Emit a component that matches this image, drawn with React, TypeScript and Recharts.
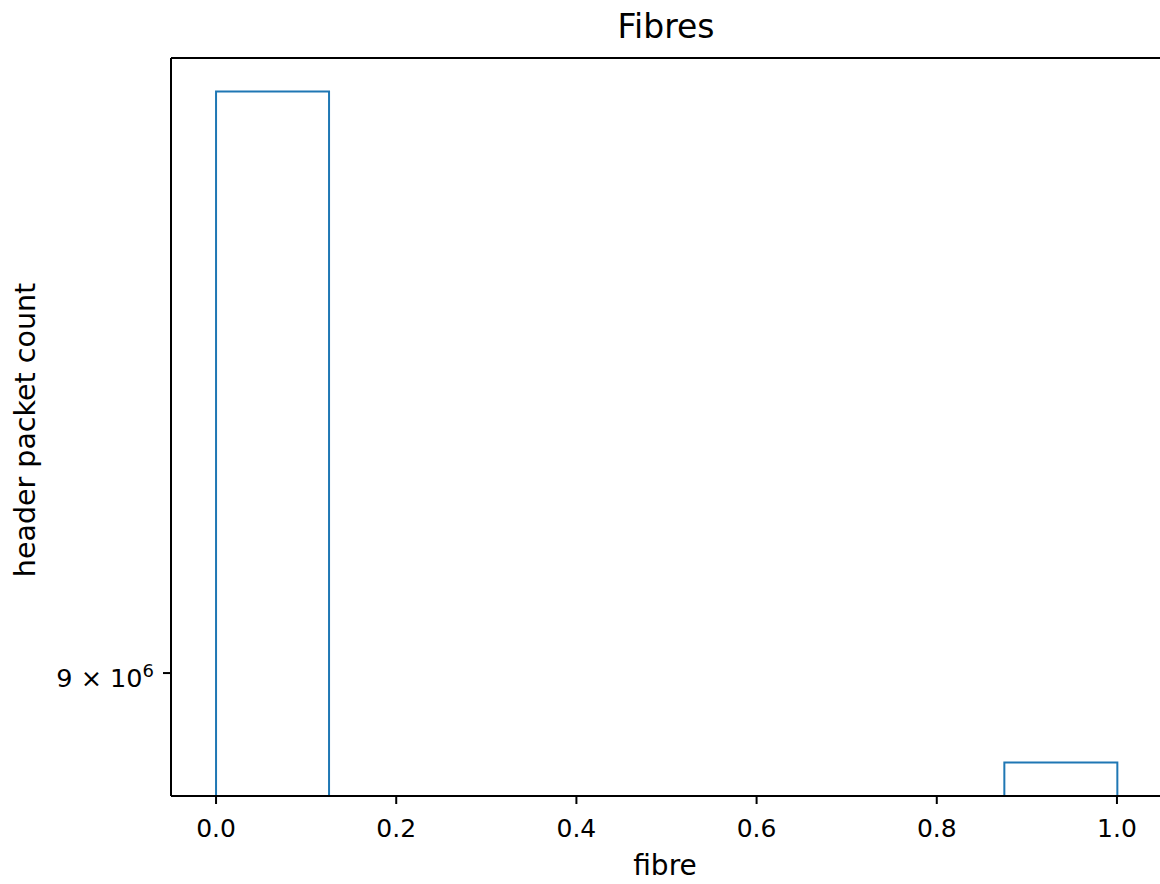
import { BarChart, Bar, XAxis, YAxis, Label, ReferenceLine } from "recharts";

const binCenters = [0.0625, 0.1875, 0.3125, 0.4375, 0.5625, 0.6875, 0.8125, 0.9375];
const packetCounts: (number | null)[] = [9.75e6, null, null, null, null, null, null, 8.89e6];
const xTicks = [0, 0.2, 0.4, 0.6, 0.8, 1.0];
const yTicks = [9e6];
const xDomain = [-0.05, 1.05];
const yDomain = [8.849e6, 9.795e6];

const data = binCenters.map((c, i) => ({ fibre: c, count: packetCounts[i] }));

const FONT = "'DejaVu Sans', sans-serif";
const BLUE = "#1f77b4";

// step outline: no bottom edge, like histtype='step'
const StepBin = (props: any) => {
  const { x, y, width, height } = props;
  if (height == null || isNaN(height)) return null;
  return (
    <path
      d={`M${x},${y + height} L${x},${y} L${x + width},${y} L${x + width},${y + height}`}
      fill="none"
      stroke={BLUE}
      strokeWidth={2}
    />
  );
};

const LogTick = (props: any) => {
  const { x, y, payload } = props;
  const exp = Math.floor(Math.log10(payload.value));
  const mant = Math.round(payload.value / Math.pow(10, exp));
  return (
    <text x={x} y={y + 14} textAnchor="end" fontSize={25.5} fill="#000" fontFamily={FONT}>
      {`${mant} × 10`}
      <tspan dy={-10} fontSize={18}>{exp}</tspan>
    </text>
  );
};

const App = () => {
  return (
    <div style={{ position: "absolute", left: 0, top: 0, width: 1160, height: 884, overflow: "hidden", background: "#fff" }}>
      <div
        style={{
          position: "absolute",
          left: 0,
          width: 1332,
          top: 9,
          textAlign: "center",
          fontFamily: FONT,
          fontSize: 33,
          lineHeight: "36px",
          color: "#000",
        }}
      >
        Fibres
      </div>
      <BarChart
        width={1170}
        height={884}
        data={data}
        margin={{ top: 58, right: 8, left: 0, bottom: 0 }}
        barCategoryGap={0}
        barGap={0}
      >
        <XAxis
          dataKey="fibre"
          type="number"
          domain={xDomain}
          allowDataOverflow
          ticks={xTicks}
          tickFormatter={(v: number) => v.toFixed(1)}
          height={88}
          tickSize={8}
          tickMargin={15}
          axisLine={{ stroke: "#000", strokeWidth: 2 }}
          tickLine={{ stroke: "#000", strokeWidth: 2 }}
          tick={{ fontSize: 25, fill: "#000", fontFamily: FONT }}
        >
          <Label
            content={() => (
              <text x={665} y={875} textAnchor="middle" fontSize={28} fill="#000" fontFamily={FONT}>
                fibre
              </text>
            )}
          />
        </XAxis>
        <YAxis
          scale="log"
          type="number"
          domain={yDomain}
          allowDataOverflow
          ticks={yTicks}
          width={171}
          tickSize={8}
          tickMargin={9}
          axisLine={{ stroke: "#000", strokeWidth: 2 }}
          tickLine={{ stroke: "#000", strokeWidth: 2 }}
          tick={<LogTick />}
        >
          <Label
            content={() => (
              <text
                x={35}
                y={430}
                transform="rotate(-90 35 430)"
                textAnchor="middle"
                fontSize={28.5}
                fill="#000"
                fontFamily={FONT}
              >
                header packet count
              </text>
            )}
          />
        </YAxis>
        <ReferenceLine y={yDomain[1]} stroke="#000" strokeWidth={2} ifOverflow="visible" />
        <ReferenceLine x={xDomain[1]} stroke="#000" strokeWidth={2} ifOverflow="visible" />
        <Bar dataKey="count" isAnimationActive={false} shape={<StepBin />} />
      </BarChart>
    </div>
  );
};

export default App;
